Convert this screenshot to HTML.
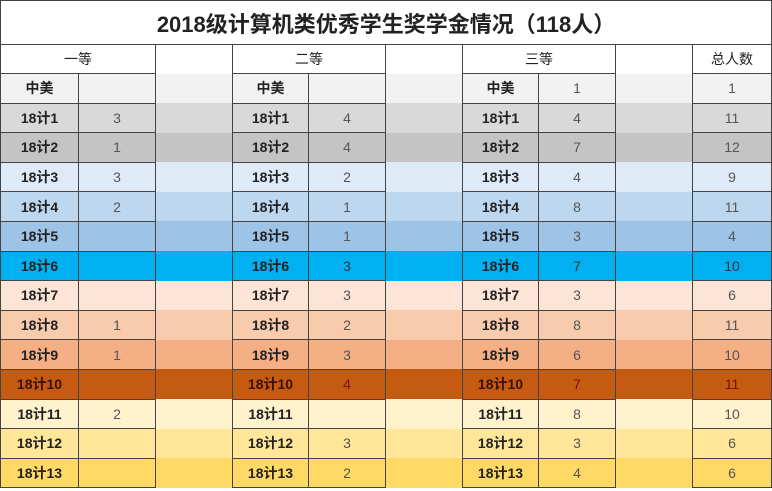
<!DOCTYPE html>
<html><head><meta charset="utf-8"><style>
html,body{margin:0;padding:0;background:#fff;width:772px;height:491px;overflow:hidden}
.t{position:absolute;left:0;top:0;width:771px;border-collapse:collapse;table-layout:fixed;font-family:"Liberation Sans","Noto Sans CJK SC",sans-serif}
td{padding:0;text-align:center;font-size:14px;color:#555;border:1px solid #444}
td.g{border-top:none;border-bottom:none}
td.l{font-weight:bold;color:#222}
.title td{height:43px;font-size:22px;font-weight:bold;color:#222;border:1px solid #444;border-bottom:1.5px solid #444}
.hd td{height:28px;font-size:14px;color:#222;background:#fff}
.r td{height:28.6px}
</style></head><body>
<table class="t">
<colgroup><col style="width:78px"><col style="width:77px"><col style="width:77px"><col style="width:76px"><col style="width:77px"><col style="width:77px"><col style="width:76px"><col style="width:77px"><col style="width:77px"><col style="width:79px"></colgroup>
<tr class="title"><td colspan="10">2018级计算机类优秀学生奖学金情况（118人）</td></tr>
<tr class="hd"><td colspan="2">一等</td><td class="g"></td><td colspan="2">二等</td><td class="g"></td><td colspan="2">三等</td><td class="g"></td><td>总人数</td></tr>
<tr class="r" style="background:#f2f2f2"><td class="l">中美</td><td></td><td class="g"></td><td class="l">中美</td><td></td><td class="g"></td><td class="l">中美</td><td>1</td><td class="g"></td><td>1</td></tr>
<tr class="r" style="background:#d9d9d9"><td class="l">18计1</td><td>3</td><td class="g"></td><td class="l">18计1</td><td>4</td><td class="g"></td><td class="l">18计1</td><td>4</td><td class="g"></td><td>11</td></tr>
<tr class="r" style="background:#c4c4c4"><td class="l">18计2</td><td>1</td><td class="g"></td><td class="l">18计2</td><td>4</td><td class="g"></td><td class="l">18计2</td><td>7</td><td class="g"></td><td>12</td></tr>
<tr class="r" style="background:#deebf7"><td class="l">18计3</td><td>3</td><td class="g"></td><td class="l">18计3</td><td>2</td><td class="g"></td><td class="l">18计3</td><td>4</td><td class="g"></td><td>9</td></tr>
<tr class="r" style="background:#bdd7ee"><td class="l">18计4</td><td>2</td><td class="g"></td><td class="l">18计4</td><td>1</td><td class="g"></td><td class="l">18计4</td><td>8</td><td class="g"></td><td>11</td></tr>
<tr class="r" style="background:#9dc3e6"><td class="l">18计5</td><td></td><td class="g"></td><td class="l">18计5</td><td>1</td><td class="g"></td><td class="l">18计5</td><td>3</td><td class="g"></td><td>4</td></tr>
<tr class="r" style="background:#00b0f0"><td class="l">18计6</td><td></td><td class="g"></td><td class="l">18计6</td><td style="color:#333">3</td><td class="g"></td><td class="l">18计6</td><td style="color:#333">7</td><td class="g"></td><td style="color:#333">10</td></tr>
<tr class="r" style="background:#fce4d6"><td class="l">18计7</td><td></td><td class="g"></td><td class="l">18计7</td><td>3</td><td class="g"></td><td class="l">18计7</td><td>3</td><td class="g"></td><td>6</td></tr>
<tr class="r" style="background:#f8cbad"><td class="l">18计8</td><td>1</td><td class="g"></td><td class="l">18计8</td><td>2</td><td class="g"></td><td class="l">18计8</td><td>8</td><td class="g"></td><td>11</td></tr>
<tr class="r" style="background:#f4b084"><td class="l">18计9</td><td>1</td><td class="g"></td><td class="l">18计9</td><td>3</td><td class="g"></td><td class="l">18计9</td><td>6</td><td class="g"></td><td>10</td></tr>
<tr class="r" style="background:#c55a11"><td class="l" style="color:#3a1000">18计10</td><td></td><td class="g"></td><td class="l" style="color:#3a1000">18计10</td><td style="color:#7a1000">4</td><td class="g"></td><td class="l" style="color:#3a1000">18计10</td><td style="color:#7a1000">7</td><td class="g"></td><td style="color:#7a1000">11</td></tr>
<tr class="r" style="background:#fff2cc"><td class="l">18计11</td><td>2</td><td class="g"></td><td class="l">18计11</td><td></td><td class="g"></td><td class="l">18计11</td><td>8</td><td class="g"></td><td>10</td></tr>
<tr class="r" style="background:#ffe699"><td class="l">18计12</td><td></td><td class="g"></td><td class="l">18计12</td><td>3</td><td class="g"></td><td class="l">18计12</td><td>3</td><td class="g"></td><td>6</td></tr>
<tr class="r" style="background:#ffd966"><td class="l">18计13</td><td></td><td class="g"></td><td class="l">18计13</td><td>2</td><td class="g"></td><td class="l">18计13</td><td>4</td><td class="g"></td><td>6</td></tr>
</table>
</body></html>
